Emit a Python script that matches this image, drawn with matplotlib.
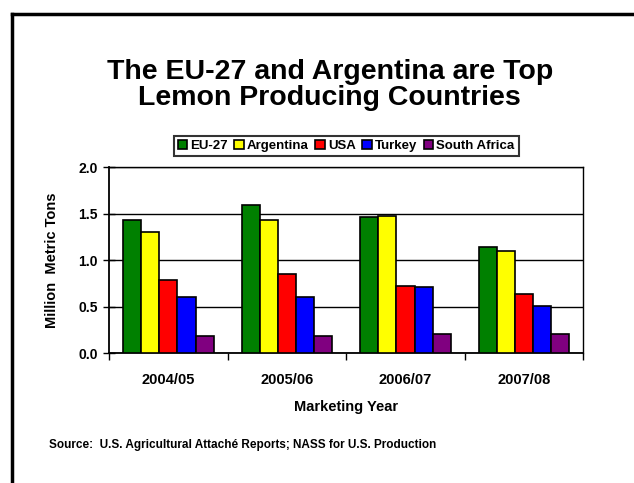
import numpy as np
import matplotlib.pyplot as plt
from matplotlib.lines import Line2D

plt.rcParams['font.family'] = ['Liberation Sans', 'DejaVu Sans']

years = ['2004/05', '2005/06', '2006/07', '2007/08']
countries = ['EU-27', 'Argentina', 'USA', 'Turkey', 'South Africa']
colors = ['#008000', '#FFFF00', '#FF0000', '#0000FF', '#800080']

eu27 = [1.43, 1.59, 1.46, 1.14]
argentina = [1.30, 1.43, 1.47, 1.10]
usa = [0.79, 0.85, 0.72, 0.64]
turkey = [0.60, 0.60, 0.71, 0.51]
south_africa = [0.18, 0.18, 0.20, 0.21]
series = [eu27, argentina, usa, turkey, south_africa]

fig = plt.figure(figsize=(6.34, 4.83), dpi=100)
ax = fig.add_axes([0.172, 0.269, 0.748, 0.385])

x = np.arange(len(years))
bw = 0.153
for i, (vals, name, c) in enumerate(zip(series, countries, colors)):
    ax.bar(x + (i - 2) * bw, vals, bw, color=c, edgecolor='black',
           linewidth=1.2, label=name, zorder=3)

ax.set_xlim(-0.5, 3.5)
ax.set_ylim(0, 2.0)
ax.set_yticks([0, 0.5, 1.0, 1.5, 2.0])
ax.set_yticklabels(['0.0', '0.5', '1.0', '1.5', '2.0'], fontweight='bold', fontsize=10)
ax.yaxis.grid(True, color='black', linewidth=1.0, zorder=0)
ax.set_axisbelow(True)

# x ticks sit between the groups, labels in the middle
ax.set_xticks([-0.5, 0.5, 1.5, 2.5, 3.5])
ax.set_xticklabels([])
ax.set_xticks(x, minor=True)
ax.set_xticklabels(years, minor=True, fontweight='bold', fontsize=10.5)
ax.tick_params(axis='x', which='major', direction='out', length=5, width=1)
ax.tick_params(axis='x', which='minor', length=0, pad=14)
ax.tick_params(axis='y', direction='inout', length=8, width=1, pad=4)

for s in ax.spines.values():
    s.set_color('black')
    s.set_linewidth(1.0)
ax.spines['left'].set_linewidth(1.3)
ax.spines['bottom'].set_linewidth(1.3)

ax.set_xlabel('Marketing Year', fontweight='bold', fontsize=10.5, labelpad=10)
ax.set_ylabel('Million  Metric Tons', fontweight='bold', fontsize=10.5, labelpad=14)

leg = ax.legend(loc='lower center', bbox_to_anchor=(0.5, 1.06), ncol=5,
                prop={'weight': 'bold', 'size': 9.5}, frameon=True, fancybox=False,
                handlelength=0.7, handleheight=0.7, handletextpad=0.25,
                columnspacing=0.5, borderpad=0.3, borderaxespad=0)
leg.get_frame().set_edgecolor('black')
leg.get_frame().set_linewidth(1.5)

fig.text(0.52, 0.825, 'The EU-27 and Argentina are Top\nLemon Producing Countries',
         ha='center', va='center', fontsize=20.5, fontweight='bold', linespacing=1.0)

fig.text(0.078, 0.078, 'Source:  U.S. Agricultural Attaché Reports; NASS for U.S. Production',
         ha='left', va='center', fontsize=8.5, fontweight='bold')

# slide frame (only top and left edges are visible)
fig.add_artist(Line2D([11.5 / 634, 11.5 / 634], [0, 1 - 13.5 / 483], color='black', linewidth=2.5))
fig.add_artist(Line2D([11.5 / 634, 1], [1 - 13.5 / 483, 1 - 13.5 / 483], color='black', linewidth=2.5))

fig.savefig('out.png', dpi=100, facecolor='white')
